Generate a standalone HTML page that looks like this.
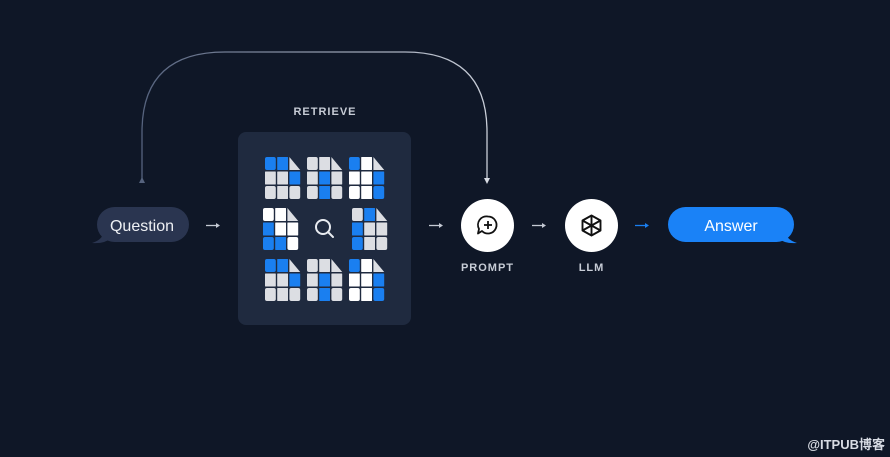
<!DOCTYPE html>
<html><head><meta charset="utf-8"><style>
html,body{margin:0;padding:0;background:#0f1727;}
svg{display:block}
text{font-family:"Liberation Sans","Noto Sans CJK SC",sans-serif}
</style></head><body>
<svg width="890" height="457" viewBox="0 0 890 457" xmlns="http://www.w3.org/2000/svg">
<defs>
<linearGradient id="lg" x1="0" x2="1" y1="0" y2="0">
<stop offset="0" stop-color="#56637e"/><stop offset="1" stop-color="#c9ced8"/>
</linearGradient>
</defs>
<rect width="890" height="457" fill="#0f1727"/>
<path d="M142 180 L142 132 Q142 52 225 52 L405 52 Q487 52 487 132 L487 178" fill="none" stroke="url(#lg)" stroke-width="1.3"/>
<polygon points="139,183 145,183 142,177" fill="#56637e"/>
<polygon points="484,178 490,178 487,184" fill="#d8dce4"/>
<text x="325" y="115" font-size="11" font-weight="bold" fill="#c7ccd6" text-anchor="middle" letter-spacing="1">RETRIEVE</text>
<rect x="97" y="207" width="92" height="35" rx="17.5" fill="#2a3550"/>
<path d="M104 232 Q102 240 92 243 Q104 244 112 238 Z" fill="#2a3550"/>
<text x="142" y="231" font-size="16" fill="#eef0f4" text-anchor="middle">Question</text>
<g stroke="#c5cad4" stroke-width="1.3"><line x1="206" y1="225.5" x2="217" y2="225.5"/><line x1="429" y1="225.5" x2="440" y2="225.5"/><line x1="532" y1="225.5" x2="543" y2="225.5"/></g>
<g fill="#c5cad4"><polygon points="216,223 220,225.5 216,228"/><polygon points="439,223 443,225.5 439,228"/><polygon points="542,223 546,225.5 542,228"/></g>
<line x1="635" y1="225.5" x2="646" y2="225.5" stroke="#1a7ff0" stroke-width="1.3"/><polygon points="645,223 649,225.5 645,228" fill="#1a7ff0"/>
<rect x="238" y="132" width="173" height="193" rx="8" fill="#1f2a3f"/>
<g id="docs"></g>
<circle cx="323" cy="227" r="7" fill="none" stroke="#e8ebf0" stroke-width="2"/>
<line x1="328" y1="232" x2="333" y2="237" stroke="#e8ebf0" stroke-width="2" stroke-linecap="round"/>
<circle cx="487.5" cy="225.5" r="26.5" fill="#fff"/>
<path d="M488 216.5 a8.5 8.5 0 1 1 -6 14.5 l-4 2.5 l1 -4.6 a8.5 8.5 0 0 1 9 -12.4z" fill="none" stroke="#111" stroke-width="1.8" stroke-linejoin="round"/>
<line x1="488" y1="221" x2="488" y2="229" stroke="#111" stroke-width="1.8"/><line x1="484" y1="225" x2="492" y2="225" stroke="#111" stroke-width="1.8"/>
<text x="487.5" y="271" font-size="11" font-weight="bold" fill="#c7ccd6" text-anchor="middle" letter-spacing="1">PROMPT</text>
<circle cx="591.5" cy="225.5" r="26.5" fill="#fff"/>
<g fill="none" stroke="#111" stroke-width="1.9" stroke-linejoin="round">
<polygon points="591.5,215.5 600.5,220.5 600.5,230.5 591.5,235.5 582.5,230.5 582.5,220.5"/>
<line x1="591.5" y1="215.5" x2="591.5" y2="235.5"/><line x1="582.5" y1="220.5" x2="600.5" y2="230.5"/><line x1="600.5" y1="220.5" x2="582.5" y2="230.5"/>
</g>
<text x="591.5" y="271" font-size="11" font-weight="bold" fill="#c7ccd6" text-anchor="middle" letter-spacing="1">LLM</text>
<rect x="668" y="207" width="126" height="35" rx="17.5" fill="#1a82f7"/>
<path d="M785 232 Q787 240 797 243 Q785 244 777 238 Z" fill="#1a82f7"/>
<text x="731" y="231" font-size="16" fill="#fff" text-anchor="middle">Answer</text>
<text x="885" y="449" font-size="13" font-weight="bold" fill="#d8dce4" text-anchor="end">@ITPUB博客</text>
</svg>
<script>
(function(){
var B="#1a7ff0",G="#dcdee3",W="#ffffff";
var docs=[[265,157,"bbXggbggg".split(""),G],[307,157,"ggXgbggbg".split(""),G],[349,157,"bwXwwbwwb".split(""),W],
[263,208,"wwXbwwbbw".split(""),W],[352,208,"gbXbggbgg".split(""),G],
[265,259,"bbXggbggg".split(""),G],[307,259,"ggXgbggbg".split(""),G],[349,259,"bwXwwbwwb".split(""),W]];
var map={b:B,g:G,w:W};var s="";
var cw=10.8,ch=13,gx=1.4,gy=1.5;
docs.forEach(function(d){
 for(var i=0;i<9;i++){var r=Math.floor(i/3),c=i%3;var x=d[0]+c*(cw+gx),y=d[1]+r*(ch+gy);
  var rx=(i==0||i==6||i==8)?2:0.5;
  if(d[2][i]=="X"){s+='<polygon points="'+x+','+y+' '+(x+cw)+','+(y+ch)+' '+x+','+(y+ch)+'" fill="'+G+'"/>';}
  else s+='<rect x="'+x+'" y="'+y+'" width="'+cw+'" height="'+ch+'" rx="'+rx+'" fill="'+map[d[2][i]]+'"/>';}
});
document.getElementById("docs").innerHTML=s;
})();
</script>
</body></html>
